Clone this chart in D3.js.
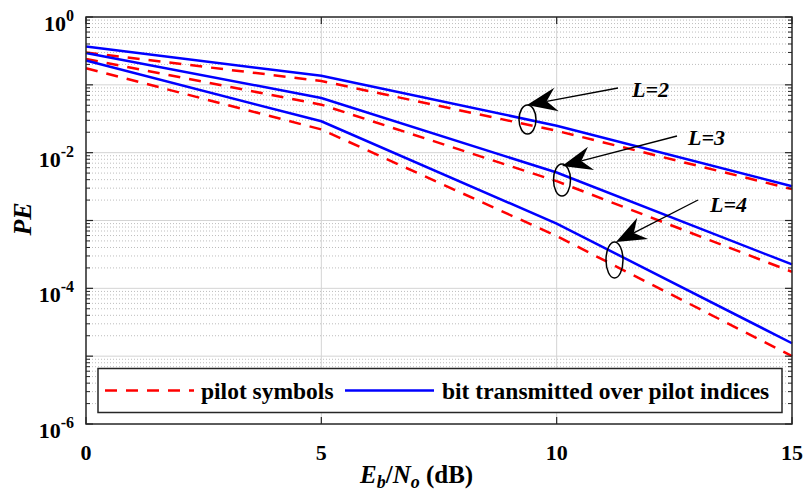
<!DOCTYPE html>
<html><head><meta charset="utf-8">
<script src="https://cdn.jsdelivr.net/npm/d3@7"></script>
<style>
html,body{margin:0;padding:0;background:#fff;}
svg{display:block;}
</style></head>
<body><svg id="chart" width="805" height="495" font-family="'Liberation Serif', 'DejaVu Serif', serif" font-weight="bold"></svg>
<script>
// ---- data ----
const ebno = [0, 5, 10, 15];
const pilotL2 = [0.30, 0.114, 0.021, 0.0029];
const bitL2   = [0.366, 0.136, 0.025, 0.0032];
const pilotL3 = [0.24, 0.051, 0.0038, 1.75e-4];
const bitL3   = [0.295, 0.064, 0.0051, 2.25e-4];
const pilotL4 = [0.176, 0.022, 5.9e-4, 1.0e-5];
const bitL4   = [0.228, 0.029, 9.0e-4, 1.55e-5];
const xTicks = [0, 5, 10, 15];
const yDecades = [0, -2, -4, -6];
const legendLabels = ["pilot symbols", "bit transmitted over pilot indices"];
const curveLabels = ["L=2", "L=3", "L=4"];

const series = [
  {type: "pilot", vals: pilotL2}, {type: "pilot", vals: pilotL3}, {type: "pilot", vals: pilotL4},
  {type: "bit", vals: bitL2}, {type: "bit", vals: bitL3}, {type: "bit", vals: bitL4}
];

// ---- layout ----
const L = 86, R = 792, T = 17, B = 424;
const svg = d3.select("#chart");
svg.append("rect").attr("width", 805).attr("height", 495).attr("fill", "#fff");

const x = d3.scaleLinear().domain([0, 15]).range([L, R]);
const y = d3.scaleLog().domain([1e-6, 1]).range([B, T]);

const minorY = [];
for (let d = -6; d < 0; d++) for (let k = 2; k <= 9; k++) minorY.push(k * Math.pow(10, d));
const majorY = d3.range(-6, 1).map(d => Math.pow(10, d));

const grid = svg.append("g");
grid.selectAll(".mny").data(minorY).join("line")
  .attr("x1", L).attr("x2", R).attr("y1", d => y(d)).attr("y2", d => y(d))
  .attr("stroke", "#bdbdbd").attr("stroke-width", 1).attr("stroke-dasharray", "1,2");
grid.selectAll(".mjy").data(majorY.filter(v => v < 1 && v > 1e-6)).join("line")
  .attr("x1", L).attr("x2", R).attr("y1", d => y(d)).attr("y2", d => y(d))
  .attr("stroke", "#d4d4d4").attr("stroke-width", 1);
grid.selectAll(".mjx").data(xTicks.filter(v => v > 0 && v < 15)).join("line")
  .attr("y1", T).attr("y2", B).attr("x1", d => x(d)).attr("x2", d => x(d))
  .attr("stroke", "#d4d4d4").attr("stroke-width", 1);

// curves
const line = d3.line().x((d, i) => x(ebno[i])).y(d => y(d));
const curves = svg.append("g");
series.forEach(s => {
  curves.append("path").attr("d", line(s.vals)).attr("fill", "none")
    .attr("stroke", s.type === "pilot" ? "#ff0000" : "#0000ff")
    .attr("stroke-width", 2.5)
    .attr("stroke-dasharray", s.type === "pilot" ? "12,9" : null);
});

// axes box and ticks
const axc = "#262626";
const ax = svg.append("g");
ax.append("rect").attr("x", L).attr("y", T).attr("width", R - L).attr("height", B - T)
  .attr("fill", "none").attr("stroke", axc).attr("stroke-width", 1.5);
majorY.forEach(v => {
  ax.append("line").attr("x1", L).attr("x2", L + 7).attr("y1", y(v)).attr("y2", y(v)).attr("stroke", axc).attr("stroke-width", 1.2);
  ax.append("line").attr("x1", R).attr("x2", R - 7).attr("y1", y(v)).attr("y2", y(v)).attr("stroke", axc).attr("stroke-width", 1.2);
});
minorY.forEach(v => {
  ax.append("line").attr("x1", L).attr("x2", L + 4).attr("y1", y(v)).attr("y2", y(v)).attr("stroke", axc).attr("stroke-width", 1);
  ax.append("line").attr("x1", R).attr("x2", R - 4).attr("y1", y(v)).attr("y2", y(v)).attr("stroke", axc).attr("stroke-width", 1);
});
xTicks.forEach(v => {
  ax.append("line").attr("x1", x(v)).attr("x2", x(v)).attr("y1", B).attr("y2", B - 7).attr("stroke", axc).attr("stroke-width", 1.2);
  ax.append("line").attr("x1", x(v)).attr("x2", x(v)).attr("y1", T).attr("y2", T + 7).attr("stroke", axc).attr("stroke-width", 1.2);
});

// tick labels
xTicks.forEach(v => {
  svg.append("text").attr("x", x(v)).attr("y", 460).attr("text-anchor", "middle")
    .attr("font-size", 22).text(v);
});
yDecades.forEach(d => {
  const t = svg.append("text").attr("x", 74).attr("y", y(Math.pow(10, d)) + 14)
    .attr("text-anchor", "end").attr("font-size", 22);
  t.append("tspan").text("10");
  t.append("tspan").attr("dy", -10).attr("font-size", 16).text(d);
});

// axis labels
const xl = svg.append("text").attr("x", 360).attr("y", 483).attr("font-size", 25);
xl.append("tspan").attr("font-style", "italic").text("E");
xl.append("tspan").attr("font-style", "italic").attr("font-size", 18).attr("dy", 5).text("b");
xl.append("tspan").attr("dy", -5).text("/");
xl.append("tspan").attr("font-style", "italic").text("N");
xl.append("tspan").attr("font-style", "italic").attr("font-size", 18).attr("dy", 5).text("o");
xl.append("tspan").attr("dy", -5).text(" (dB)");

svg.append("text").attr("transform", "translate(31,219) rotate(-90)")
  .attr("text-anchor", "middle").attr("font-size", 26).attr("font-style", "italic").text("PE");

// annotations (pixel layout)
const ann = [
  {label: curveLabels[0], tx: 632, ty: 97, tail: [618, 88], tip: [527, 105], ell: [527.5, 119.5, 8.5, 14.5]},
  {label: curveLabels[1], tx: 688, ty: 145, tail: [677, 136], tip: [562, 166], ell: [562, 180, 8.5, 16]},
  {label: curveLabels[2], tx: 710, ty: 212, tail: [698, 200], tip: [616, 242], ell: [614.5, 260, 8.5, 18]}
];
ann.forEach(a => {
  svg.append("ellipse").attr("cx", a.ell[0]).attr("cy", a.ell[1]).attr("rx", a.ell[2]).attr("ry", a.ell[3])
    .attr("fill", "none").attr("stroke", "#000").attr("stroke-width", 1.5);
  const dx = a.tail[0] - a.tip[0], dy = a.tail[1] - a.tip[1];
  const len = Math.hypot(dx, dy), ux = dx / len, uy = dy / len, px = -uy, py = ux;
  const hl = 30, hw = 12, notch = 20;
  svg.append("line").attr("x1", a.tail[0]).attr("y1", a.tail[1])
    .attr("x2", a.tip[0] + ux * notch).attr("y2", a.tip[1] + uy * notch)
    .attr("stroke", "#000").attr("stroke-width", 1.3);
  const pts = [
    [a.tip[0], a.tip[1]],
    [a.tip[0] + ux * hl + px * hw, a.tip[1] + uy * hl + py * hw],
    [a.tip[0] + ux * notch, a.tip[1] + uy * notch],
    [a.tip[0] + ux * hl - px * hw, a.tip[1] + uy * hl - py * hw]
  ];
  svg.append("path").attr("d", "M" + pts.map(p => p.join(",")).join("L") + "Z").attr("fill", "#000");
  svg.append("text").attr("x", a.tx).attr("y", a.ty).attr("font-size", 22).attr("font-style", "italic").text(a.label);
});

// legend
const lg = svg.append("g");
lg.append("rect").attr("x", 98).attr("y", 368.5).attr("width", 684).attr("height", 44)
  .attr("fill", "#fff").attr("stroke", axc).attr("stroke-width", 1.5);
lg.append("line").attr("x1", 105).attr("x2", 194).attr("y1", 390.5).attr("y2", 390.5)
  .attr("stroke", "#ff0000").attr("stroke-width", 2.5).attr("stroke-dasharray", "12,9");
lg.append("text").attr("x", 201).attr("y", 399).attr("font-size", 23.5).text(legendLabels[0]);
lg.append("line").attr("x1", 345).attr("x2", 434).attr("y1", 390.5).attr("y2", 390.5)
  .attr("stroke", "#0000ff").attr("stroke-width", 2.5);
lg.append("text").attr("x", 442).attr("y", 399).attr("font-size", 23.5).text(legendLabels[1]);
</script></body></html>
